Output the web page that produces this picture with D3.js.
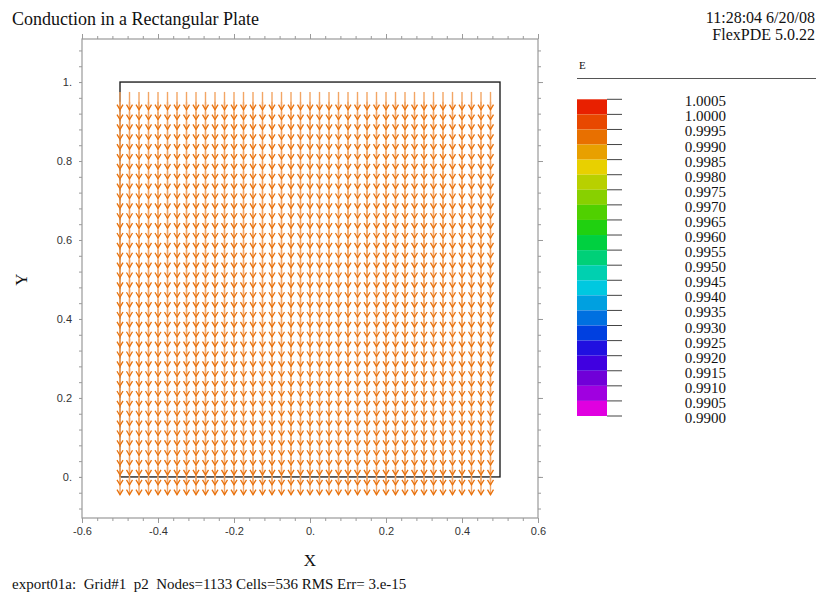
<!DOCTYPE html>
<html>
<head>
<meta charset="utf-8">
<script src="https://cdn.jsdelivr.net/npm/d3@7"></script>
<style>
  body { margin: 0; background: #fff; }
  svg text { font-family: "Liberation Serif", "Times New Roman", serif; fill: #111; }
  .tick text { font-family: "Liberation Sans", Arial, sans-serif; fill: #333; font-size: 11px; }
</style>
</head>
<body>
<svg id="chart" width="820" height="600"></svg>
<script>
// Sample points of the flux vector field (plate coordinates)
const gridX = [-0.5, -0.475, -0.45, -0.425, -0.4, -0.375, -0.35, -0.325, -0.3, -0.275,
               -0.25, -0.225, -0.2, -0.175, -0.15, -0.125, -0.1, -0.075, -0.05, -0.025,
               0.0, 0.025, 0.05, 0.075, 0.1, 0.125, 0.15, 0.175, 0.2, 0.225,
               0.25, 0.275, 0.3, 0.325, 0.35, 0.375, 0.4, 0.425, 0.45, 0.475];
const gridY = [0.975, 0.95, 0.925, 0.9, 0.875, 0.85, 0.825, 0.8, 0.775, 0.75,
               0.725, 0.7, 0.675, 0.65, 0.625, 0.6, 0.575, 0.55, 0.525, 0.5,
               0.475, 0.45, 0.425, 0.4, 0.375, 0.35, 0.325, 0.3, 0.275, 0.25,
               0.225, 0.2, 0.175, 0.15, 0.125, 0.1, 0.075, 0.05, 0.025, 0.0];
// Normalised flux direction (uniform, pointing in -Y)
const fluxX = 0;
const fluxY = -1;

// Plate outline
const plateX = [-0.5, 0.5];
const plateY = [0, 1];

// Axis ticks
const xTicks = [-0.6, -0.4, -0.2, 0, 0.2, 0.4, 0.6];
const xTickLabels = ["-0.6", "-0.4", "-0.2", "0.", "0.2", "0.4", "0.6"];
const yTicks = [0, 0.2, 0.4, 0.6, 0.8, 1];
const yTickLabels = ["0.", "0.2", "0.4", "0.6", "0.8", "1."];

// Colour legend for E
const legendLabels = ["1.0005", "1.0000", "0.9995", "0.9990", "0.9985", "0.9980", "0.9975",
                      "0.9970", "0.9965", "0.9960", "0.9955", "0.9950", "0.9945", "0.9940",
                      "0.9935", "0.9930", "0.9925", "0.9920", "0.9915", "0.9910", "0.9905",
                      "0.9900"];
const legendColors = ["#e82000", "#e84800", "#e87000", "#e8a000", "#e8d000", "#b8d000", "#88d000",
                      "#50d000", "#20d010", "#00d040", "#00d078", "#00d0b0", "#00c8e0", "#00a0e0",
                      "#0070e0", "#0040e0", "#2010e0", "#4000e0", "#7000d8", "#a000e0", "#e000e0"];

const svg = d3.select("#chart");

// Plot frame
const frame = { left: 82, right: 538, top: 39, bottom: 518 };
const x = d3.scaleLinear().domain([-0.6, 0.6]).range([frame.left, frame.right]);
const y = d3.scaleLinear().domain([-0.104, 1.109]).range([frame.bottom, frame.top]);

const axisColor = "#9a9a9a";

// Minor tick positions (5 subdivisions of each labelled interval)
const xMinor = d3.range(-0.6, 0.6001, 0.04);
const yMinor = d3.range(-0.08, 1.1, 0.04);

function styleAxis(g) {
  g.select(".domain").remove();
  g.selectAll(".tick line").attr("stroke", axisColor);
}

// Bottom axis
svg.append("g").attr("transform", `translate(0,${frame.bottom})`)
  .call(d3.axisBottom(x).tickValues(xMinor).tickSize(3).tickFormat(""))
  .call(styleAxis);
svg.append("g").attr("transform", `translate(0,${frame.bottom})`)
  .call(d3.axisBottom(x).tickValues(xTicks).tickSize(5).tickPadding(4)
    .tickFormat((d, i) => xTickLabels[i]))
  .call(styleAxis);
// Top axis
svg.append("g").attr("transform", `translate(0,${frame.top})`)
  .call(d3.axisTop(x).tickValues(xMinor).tickSize(3).tickFormat(""))
  .call(styleAxis);
svg.append("g").attr("transform", `translate(0,${frame.top})`)
  .call(d3.axisTop(x).tickValues(xTicks).tickSize(5).tickFormat(""))
  .call(styleAxis);
// Left axis
svg.append("g").attr("transform", `translate(${frame.left},0)`)
  .call(d3.axisLeft(y).tickValues(yMinor).tickSize(3).tickFormat(""))
  .call(styleAxis);
svg.append("g").attr("transform", `translate(${frame.left},0)`)
  .call(d3.axisLeft(y).tickValues(yTicks).tickSize(3).tickPadding(7)
    .tickFormat((d, i) => yTickLabels[i]))
  .call(styleAxis);
// Right axis
svg.append("g").attr("transform", `translate(${frame.right},0)`)
  .call(d3.axisRight(y).tickValues(yMinor).tickSize(3).tickFormat(""))
  .call(styleAxis);
svg.append("g").attr("transform", `translate(${frame.right},0)`)
  .call(d3.axisRight(y).tickValues(yTicks).tickSize(5).tickFormat(""))
  .call(styleAxis);

svg.append("rect")
  .attr("x", frame.left).attr("y", frame.top)
  .attr("width", frame.right - frame.left).attr("height", frame.bottom - frame.top)
  .attr("fill", "none").attr("stroke", axisColor).attr("stroke-width", 1.2);

// Plate boundary
svg.append("rect")
  .attr("x", x(plateX[0])).attr("y", y(plateY[1]))
  .attr("width", x(plateX[1]) - x(plateX[0]))
  .attr("height", y(plateY[0]) - y(plateY[1]))
  .attr("fill", "none").attr("stroke", "#222").attr("stroke-width", 1.4);

// Flux vectors
const arrowLen = 0.045; // plot units per unit flux
const points = [];
gridY.forEach(gy => gridX.forEach(gx => points.push({ gx, gy })));

const arrows = svg.append("g");
arrows.selectAll("line.shaft").data(points).join("line")
  .attr("class", "shaft")
  .attr("x1", d => x(d.gx)).attr("y1", d => y(d.gy))
  .attr("x2", d => x(d.gx + fluxX * arrowLen)).attr("y2", d => y(d.gy + fluxY * arrowLen))
  .attr("stroke", "#f2a564").attr("stroke-width", 1.4);

arrows.selectAll("path.head").data(points).join("path")
  .attr("class", "head")
  .attr("d", d => {
    const tx = x(d.gx + fluxX * arrowLen), ty = y(d.gy + fluxY * arrowLen);
    const sx = x(d.gx), sy = y(d.gy);
    const len = Math.hypot(tx - sx, ty - sy);
    const ux = (tx - sx) / len, uy = (ty - sy) / len;
    const hl = 5, hw = 3;
    const bx = tx - ux * hl, by = ty - uy * hl;
    return `M${bx - uy * hw},${by + ux * hw}L${tx},${ty}L${bx + uy * hw},${by - ux * hw}`;
  })
  .attr("fill", "none").attr("stroke", "#e8720e").attr("stroke-width", 1.3);

// Axis titles
svg.append("text").attr("x", x(0)).attr("y", 566).attr("text-anchor", "middle")
  .attr("font-size", 17).text("X");
svg.append("text").attr("transform", `translate(27,${y(0.5)}) rotate(-90)`)
  .attr("text-anchor", "middle").attr("font-size", 17).text("Y");

// Header and footer
svg.append("text").attr("x", 12).attr("y", 25).attr("font-size", 18)
  .text("Conduction in a Rectangular Plate");
svg.append("text").attr("x", 815).attr("y", 23).attr("text-anchor", "end").attr("font-size", 16)
  .text("11:28:04 6/20/08");
svg.append("text").attr("x", 815).attr("y", 40).attr("text-anchor", "end").attr("font-size", 16)
  .text("FlexPDE 5.0.22");
svg.append("text").attr("x", 12).attr("y", 589).attr("font-size", 15)
  .style("white-space", "pre")
  .text("export01a:  Grid#1  p2  Nodes=1133 Cells=536 RMS Err= 3.e-15");

// Legend
const legend = svg.append("g");
legend.append("text").attr("x", 579).attr("y", 69).attr("font-size", 11).text("E");
legend.append("line").attr("x1", 577).attr("x2", 816).attr("y1", 78.5).attr("y2", 78.5)
  .attr("stroke", "#555").attr("stroke-width", 1);

const ly = d3.scalePoint().domain(legendLabels).range([99.3, 416]);
legend.selectAll("rect").data(legendColors).join("rect")
  .attr("x", 577).attr("width", 30)
  .attr("y", (c, i) => ly(legendLabels[i]))
  .attr("height", (c, i) => ly(legendLabels[i + 1]) - ly(legendLabels[i]))
  .attr("fill", c => c);
legend.selectAll("line.tk").data(legendLabels).join("line")
  .attr("class", "tk")
  .attr("x1", 607).attr("x2", 622)
  .attr("y1", d => ly(d)).attr("y2", d => ly(d))
  .attr("stroke", "#444").attr("stroke-width", 1);
legend.selectAll("text.lbl").data(legendLabels).join("text")
  .attr("class", "lbl")
  .attr("x", 726).attr("y", d => ly(d) + 7)
  .attr("text-anchor", "end").attr("font-size", 15)
  .text(d => d);
</script>
</body>
</html>
